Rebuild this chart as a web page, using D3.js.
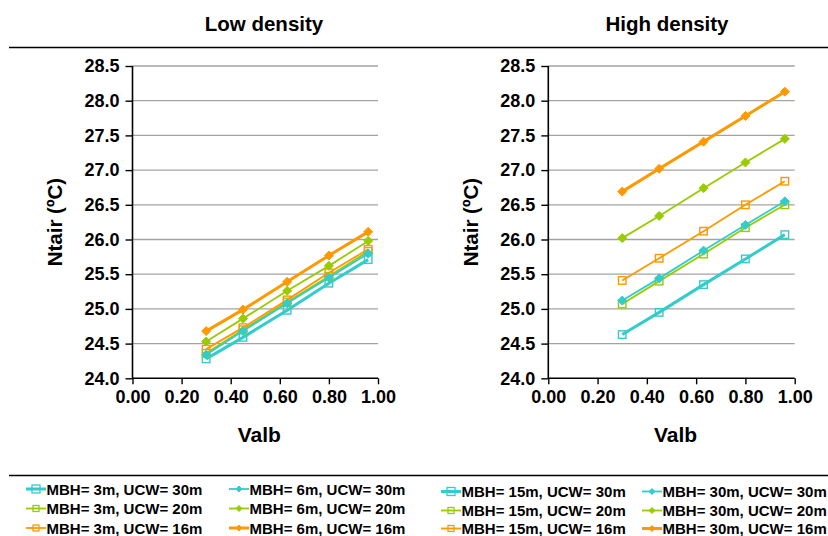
<!DOCTYPE html>
<html>
<head>
<meta charset="utf-8">
<script src="https://cdn.jsdelivr.net/npm/d3@7"></script>
<style>
  html, body { margin: 0; padding: 0; background: #fff; }
  svg { display: block; font-family: "Liberation Sans", Arial, sans-serif; font-weight: bold; }
</style>
</head>
<body>
<svg id="chart" width="828" height="536"></svg>
<script>
// Albedo values along the x axis
const valb = [0.30, 0.45, 0.63, 0.80, 0.96];
const xTicks = [0, 0.2, 0.4, 0.6, 0.8, 1.0];
const yTicks = [24.0, 24.5, 25.0, 25.5, 26.0, 26.5, 27.0, 27.5, 28.0, 28.5];

// Low density scenarios (ºC)
const lowMBH3UCW30 = [24.28, 24.59, 24.98, 25.37, 25.71];
const lowMBH3UCW20 = [24.36, 24.70, 25.10, 25.47, 25.83];
const lowMBH3UCW16 = [24.42, 24.73, 25.13, 25.52, 25.86];
const lowMBH6UCW30 = [24.34, 24.68, 25.08, 25.45, 25.80];
const lowMBH6UCW20 = [24.53, 24.86, 25.26, 25.62, 25.98];
const lowMBH6UCW16 = [24.68, 24.99, 25.39, 25.77, 26.11];
const lowNames = ["MBH= 3m, UCW= 30m", "MBH= 3m, UCW= 20m", "MBH= 3m, UCW= 16m",
                  "MBH= 6m, UCW= 30m", "MBH= 6m, UCW= 20m", "MBH= 6m, UCW= 16m"];

// High density scenarios (ºC)
const highMBH15UCW30 = [24.63, 24.95, 25.35, 25.72, 26.07];
const highMBH15UCW20 = [25.07, 25.40, 25.79, 26.17, 26.50];
const highMBH15UCW16 = [25.41, 25.73, 26.12, 26.50, 26.84];
const highMBH30UCW30 = [25.12, 25.44, 25.84, 26.21, 26.55];
const highMBH30UCW20 = [26.02, 26.34, 26.74, 27.11, 27.45];
const highMBH30UCW16 = [26.69, 27.02, 27.41, 27.78, 28.13];
const highNames = ["MBH= 15m, UCW= 30m", "MBH= 15m, UCW= 20m", "MBH= 15m, UCW= 16m",
                   "MBH= 30m, UCW= 30m", "MBH= 30m, UCW= 20m", "MBH= 30m, UCW= 16m"];

// Series styling (same order in both panels)
const styles = [
  { color: "#33CCCC", marker: "square",  width: 3.0 },
  { color: "#99CC00", marker: "square",  width: 1.8 },
  { color: "#FF9900", marker: "square",  width: 1.8 },
  { color: "#33CCCC", marker: "diamond", width: 1.8 },
  { color: "#99CC00", marker: "diamond", width: 1.8 },
  { color: "#FF9900", marker: "diamond", width: 3.0 }
];

const svg = d3.select("#chart");

// Horizontal rules framing the panels and legend
svg.append("line").attr("x1", 9).attr("x2", 828).attr("y1", 47.5).attr("y2", 47.5)
  .attr("stroke", "#000").attr("stroke-width", 1.3);
svg.append("line").attr("x1", 9).attr("x2", 828).attr("y1", 475.5).attr("y2", 475.5)
  .attr("stroke", "#000").attr("stroke-width", 1.3);

const panels = [
  { title: "Low density", titleX: 264, x0: 132.5, x1: 378, yTitleX: 62,
    series: [lowMBH3UCW30, lowMBH3UCW20, lowMBH3UCW16, lowMBH6UCW30, lowMBH6UCW20, lowMBH6UCW16],
    names: lowNames, legendX: [26, 229], legendY: [489, 508.5, 528] },
  { title: "High density", titleX: 667, x0: 548.3, x1: 794.7, yTitleX: 477.5,
    series: [highMBH15UCW30, highMBH15UCW20, highMBH15UCW16, highMBH30UCW30, highMBH30UCW20, highMBH30UCW16],
    names: highNames, legendX: [441, 642], legendY: [491.5, 510.5, 528.5] }
];

const yTop = 66, yBottom = 378.3;

function drawMarker(g, type, cx, cy, size, color, sw) {
  if (type === "square") {
    g.append("rect")
      .attr("x", cx - size / 2).attr("y", cy - size / 2)
      .attr("width", size).attr("height", size)
      .attr("fill", "none").attr("stroke", color).attr("stroke-width", sw);
  } else {
    const r = size / 2;
    g.append("path")
      .attr("d", `M${cx},${cy - r}L${cx + r},${cy}L${cx},${cy + r}L${cx - r},${cy}Z`)
      .attr("fill", color).attr("stroke", color).attr("stroke-width", 1);
  }
}

panels.forEach(p => {
  const x = d3.scaleLinear().domain([0, 1]).range([p.x0, p.x1]);
  const y = d3.scaleLinear().domain([24, 28.5]).range([yBottom, yTop]);
  const g = svg.append("g");

  // Title
  g.append("text").attr("x", p.titleX).attr("y", 31)
    .attr("text-anchor", "middle").attr("font-size", 20.5).text(p.title);

  // Gridlines
  g.append("g").selectAll("line")
    .data(yTicks.filter(t => t > 24))
    .join("line")
    .attr("x1", p.x0).attr("x2", p.x1)
    .attr("y1", d => y(d)).attr("y2", d => y(d))
    .attr("stroke", "#a3a3a3").attr("stroke-width", 1.3);

  // Axes
  const yAxis = d3.axisLeft(y).tickValues(yTicks).tickFormat(d3.format(".1f"))
    .tickSize(7).tickPadding(6);
  const yg = g.append("g").attr("transform", `translate(${p.x0},0)`).call(yAxis);
  const xAxis = d3.axisBottom(x).tickValues(xTicks).tickFormat(d3.format(".2f"))
    .tickSize(6).tickPadding(6);
  const xg = g.append("g").attr("transform", `translate(0,${yBottom})`).call(xAxis);

  [yg, xg].forEach(a => {
    a.select(".domain").attr("stroke", "#000").attr("stroke-width", 1.6);
    a.selectAll(".tick line").attr("stroke", "#000").attr("stroke-width", 1.4);
    a.selectAll(".tick text").attr("fill", "#000").attr("font-size", 18)
      .attr("font-family", "Liberation Sans, Arial, sans-serif").attr("font-weight", "bold");
  });
  yg.select(".domain").attr("d", `M0,${yTop}V${yBottom}`);
  yg.selectAll(".tick line").attr("x2", -7);
  xg.select(".domain").attr("d", `M${p.x0},0H${p.x1}`);

  // Axis titles
  g.append("text").attr("x", (p.x0 + p.x1) / 2 + 4).attr("y", 442)
    .attr("text-anchor", "middle").attr("font-size", 21).text("Valb");
  g.append("text")
    .attr("transform", `translate(${p.yTitleX},${(yTop + yBottom) / 2}) rotate(-90)`)
    .attr("text-anchor", "middle").attr("font-size", 20.5).text("Ntair (ºC)");

  // Series lines and markers
  const line = d3.line().x((d, i) => x(valb[i])).y(d => y(d));
  p.series.forEach((vals, si) => {
    const s = styles[si];
    const sg = g.append("g");
    sg.append("path").datum(vals).attr("d", line)
      .attr("fill", "none").attr("stroke", s.color).attr("stroke-width", s.width);
    vals.forEach((v, i) => {
      drawMarker(sg, s.marker, x(valb[i]), y(v), s.marker === "square" ? 7.5 : 9, s.color, 1.4);
    });
  });

  // Legend: two columns of three entries
  p.names.forEach((name, si) => {
    const s = styles[si];
    const col = Math.floor(si / 3), row = si % 3;
    const lx = p.legendX[col], ly = p.legendY[row];
    const lg = svg.append("g");
    lg.append("line").attr("x1", lx).attr("x2", lx + 20).attr("y1", ly).attr("y2", ly)
      .attr("stroke", s.color).attr("stroke-width", s.width);
    drawMarker(lg, s.marker, lx + 10, ly, si === 0 ? 8 : 6, s.color, 1.3);
    lg.append("text").attr("x", lx + 20.5).attr("y", ly + 5.5)
      .attr("font-size", 15).text(name);
  });
});
</script>
</body>
</html>
